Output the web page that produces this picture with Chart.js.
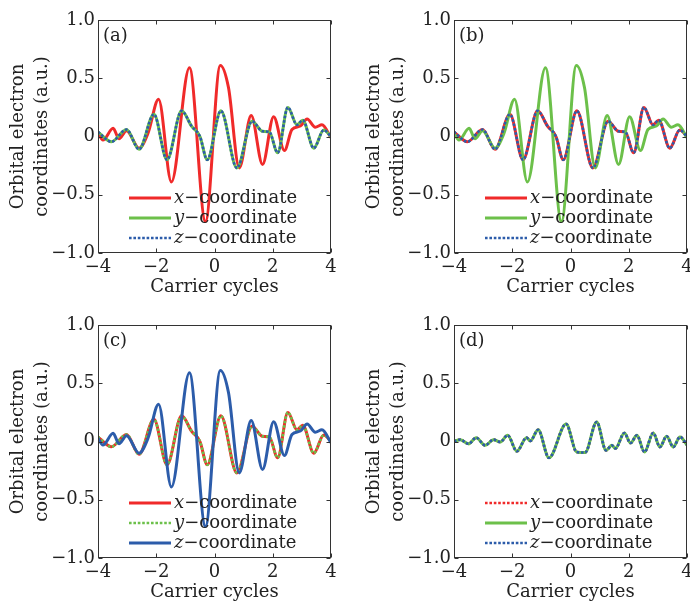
<!DOCTYPE html>
<html>
<head>
<meta charset="utf-8">
<script src="https://cdn.jsdelivr.net/npm/chart.js@4.4.1/dist/chart.umd.min.js"></script>
<style>
    html, body { margin: 0; padding: 0; background: #fff; overflow: hidden; width: 690px; height: 603px; }
    .panel { position: absolute; width: 345px; height: 298px; }
</style>
</head>
<body>
<div class="panel" style="left:0;top:0"><canvas id="chartA" width="345" height="298"></canvas></div>
<div class="panel" style="left:356px;top:0"><canvas id="chartB" width="345" height="298"></canvas></div>
<div class="panel" style="left:0;top:305px"><canvas id="chartC" width="345" height="298"></canvas></div>
<div class="panel" style="left:356px;top:305px"><canvas id="chartD" width="345" height="298"></canvas></div>
<script>
// Large oscillation (carrier cycles / coordinate)
const bigT = [-4, -3.83, -3.48, -3.28, -3.02, -2.59, -2.28, -1.92, -1.48, -0.86, -0.31, 0.2, 0.48, 0.85, 1.26, 1.65, 2.03, 2.4, 2.66, 2.95, 3.18, 3.46, 3.69, 4];
const bigV = [0.03, -0.03, 0.07, -0.02, 0.05, -0.10, 0.03, 0.32, -0.39, 0.59, -0.73, 0.61, 0.42, -0.27, 0.18, -0.24, 0.17, -0.12, 0.06, 0.09, 0.15, 0.08, 0.10, -0.01];

// Small oscillation shared by the two other coordinates in (a)-(c)
const smallT = [-4, -3.54, -3.02, -2.59, -2.08, -1.63, -1.13, -0.79, -0.5, -0.25, 0.22, 0.77, 1.29, 1.65, 1.88, 2.17, 2.52, 2.83, 3.03, 3.41, 3.75, 4];
const smallV = [0.04, -0.045, 0.06, -0.11, 0.19, -0.2, 0.22, 0.09, 0.0, -0.2, 0.22, -0.27, 0.13, 0.045, 0.04, -0.14, 0.25, 0.10, 0.14, -0.10, 0.055, 0.0];

// Panel (d): all three coordinates coincide
const dT = [-4, -3.79, -3.5, -3.24, -2.93, -2.64, -2.41, -2.16, -1.84, -1.51, -1.38, -1.11, -0.74, -0.15, 0.21, 0.5, 0.9, 1.22, 1.42, 1.54, 1.85, 2.06, 2.28, 2.54, 2.84, 3.07, 3.3, 3.53, 3.76, 4];
const dV = [0.0, 0.016, -0.02, 0.033, -0.033, 0.016, -0.004, 0.053, -0.084, 0.033, 0.005, 0.10, -0.14, 0.15, -0.09, -0.095, 0.168, -0.076, -0.033, -0.06, 0.073, -0.013, 0.053, -0.09, 0.073, -0.047, 0.045, -0.047, 0.039, -0.03];

const coordNames = ["x", "y", "z"];
const panelTags = ["(a)", "(b)", "(c)", "(d)"];
const xTicks = [-4, -2, 0, 2, 4];
const yTicks = [-1, -0.5, 0, 0.5, 1];

const colors = { red: "#f02a2a", green: "#6cc04a", blue: "#2c5caa" };
const FONT = "'DejaVu Serif', serif";

const zip = (t, v) => t.map((x, i) => ({ x, y: v[i] }));
const minus = (s) => s.replace("-", "\u2212");

// series + style per coordinate, per panel
const panels = [
    { id: "chartA", tag: panelTags[0], lines: [
        [bigT, bigV, colors.red, false], [smallT, smallV, colors.green, false], [smallT, smallV, colors.blue, true]] },
    { id: "chartB", tag: panelTags[1], lines: [
        [smallT, smallV, colors.red, false], [bigT, bigV, colors.green, false], [smallT, smallV, colors.blue, true]] },
    { id: "chartC", tag: panelTags[2], lines: [
        [smallT, smallV, colors.red, false], [smallT, smallV, colors.green, true], [bigT, bigV, colors.blue, false]] },
    { id: "chartD", tag: panelTags[3], lines: [
        [dT, dV, colors.red, true], [dT, dV, colors.green, false], [dT, dV, colors.blue, true]] },
];

// frame, inward ticks, panel tag and legend
const panelDecor = {
    id: "panelDecor",
    afterDraw(chart, args, opts) {
        const { ctx, chartArea } = chart;
        const left = Math.round(chartArea.left) + 0.5;
        const right = Math.round(chartArea.right) - 0.5;
        const top = Math.round(chartArea.top) + 0.5;
        const bottom = Math.round(chartArea.bottom) - 0.5;
        ctx.save();
        ctx.strokeStyle = "#333";
        ctx.lineWidth = 1;
        ctx.strokeRect(left, top, right - left, bottom - top);

        const tl = 4;
        ctx.beginPath();
        chart.scales.x.ticks.forEach((t) => {
            const px = Math.round(chart.scales.x.getPixelForValue(t.value)) + 0.5;
            ctx.moveTo(px, bottom); ctx.lineTo(px, bottom - tl);
            ctx.moveTo(px, top); ctx.lineTo(px, top + tl);
        });
        chart.scales.y.ticks.forEach((t) => {
            const py = Math.round(chart.scales.y.getPixelForValue(t.value)) + 0.5;
            ctx.moveTo(left, py); ctx.lineTo(left + tl, py);
            ctx.moveTo(right, py); ctx.lineTo(right - tl, py);
        });
        ctx.stroke();

        ctx.fillStyle = "#222";
        ctx.font = "18px " + FONT;
        ctx.textBaseline = "middle";
        ctx.textAlign = "left";
        ctx.fillText(opts.tag, chartArea.left + 5, chartArea.top + 16);

        // legend
        chart.data.datasets.forEach((ds, i) => {
            const y = chartArea.top + 178 + i * 20;
            const x0 = chartArea.left + 31;
            ctx.save();
            ctx.strokeStyle = ds.borderColor;
            ctx.lineWidth = ds.borderWidth;
            ctx.setLineDash(ds.borderDash || []);
            ctx.beginPath();
            ctx.moveTo(x0, y);
            ctx.lineTo(x0 + 42, y);
            ctx.stroke();
            ctx.restore();
            let tx = x0 + 45;
            ctx.font = "italic 18px " + FONT;
            ctx.fillText(coordNames[i], tx, y);
            tx += ctx.measureText(coordNames[i]).width;
            ctx.font = "18px " + FONT;
            ctx.fillText("\u2212coordinate", tx, y);
        });
        ctx.restore();
    },
};

panels.forEach((p) => {
    const datasets = p.lines.map(([t, v, color, dotted], i) => ({
        label: coordNames[i] + "\u2212coordinate",
        data: zip(t, v),
        borderColor: color,
        borderWidth: dotted ? 2.6 : 3,
        borderDash: dotted ? [2.6, 1.8] : [],
        pointRadius: 0,
        fill: false,
        cubicInterpolationMode: "monotone",
        order: 2 - i,
    }));

    new Chart(document.getElementById(p.id), {
        type: "line",
        data: { datasets },
        plugins: [panelDecor],
        options: {
            responsive: false,
            animation: false,
            layout: { padding: { top: 20, right: 14, left: 0, bottom: 0 } },
            plugins: {
                legend: { display: false },
                tooltip: { enabled: false },
                panelDecor: { tag: p.tag },
            },
            scales: {
                x: {
                    type: "linear",
                    min: -4,
                    max: 4,
                    afterBuildTicks: (s) => { s.ticks = xTicks.map((value) => ({ value })); },
                    afterFit: (s) => { s.height = 45; },
                    grid: { display: false, drawTicks: false },
                    border: { display: false },
                    ticks: {
                        padding: 4,
                        color: "#222",
                        font: { family: FONT, size: 18 },
                        maxRotation: 0,
                        callback: (v) => minus(String(v)),
                    },
                    title: {
                        display: true,
                        text: "Carrier cycles",
                        color: "#222",
                        font: { family: FONT, size: 18 },
                        padding: { top: 0, bottom: 0 },
                    },
                },
                y: {
                    min: -1,
                    max: 1,
                    afterBuildTicks: (s) => { s.ticks = yTicks.map((value) => ({ value })); },
                    afterFit: (s) => { s.width = 98; },
                    grid: { display: false, drawTicks: false },
                    border: { display: false },
                    ticks: {
                        padding: 3,
                        color: "#222",
                        font: { family: FONT, size: 18 },
                        callback: (v) => (v === 0 ? "0" : minus(v.toFixed(1))),
                    },
                    title: {
                        display: true,
                        text: ["Orbital electron", "coordinates (a.u.)"],
                        color: "#222",
                        font: { family: FONT, size: 18, lineHeight: 1.3 },
                        padding: { top: 7, bottom: 0 },
                    },
                },
            },
        },
    });
});
</script>
</body>
</html>
